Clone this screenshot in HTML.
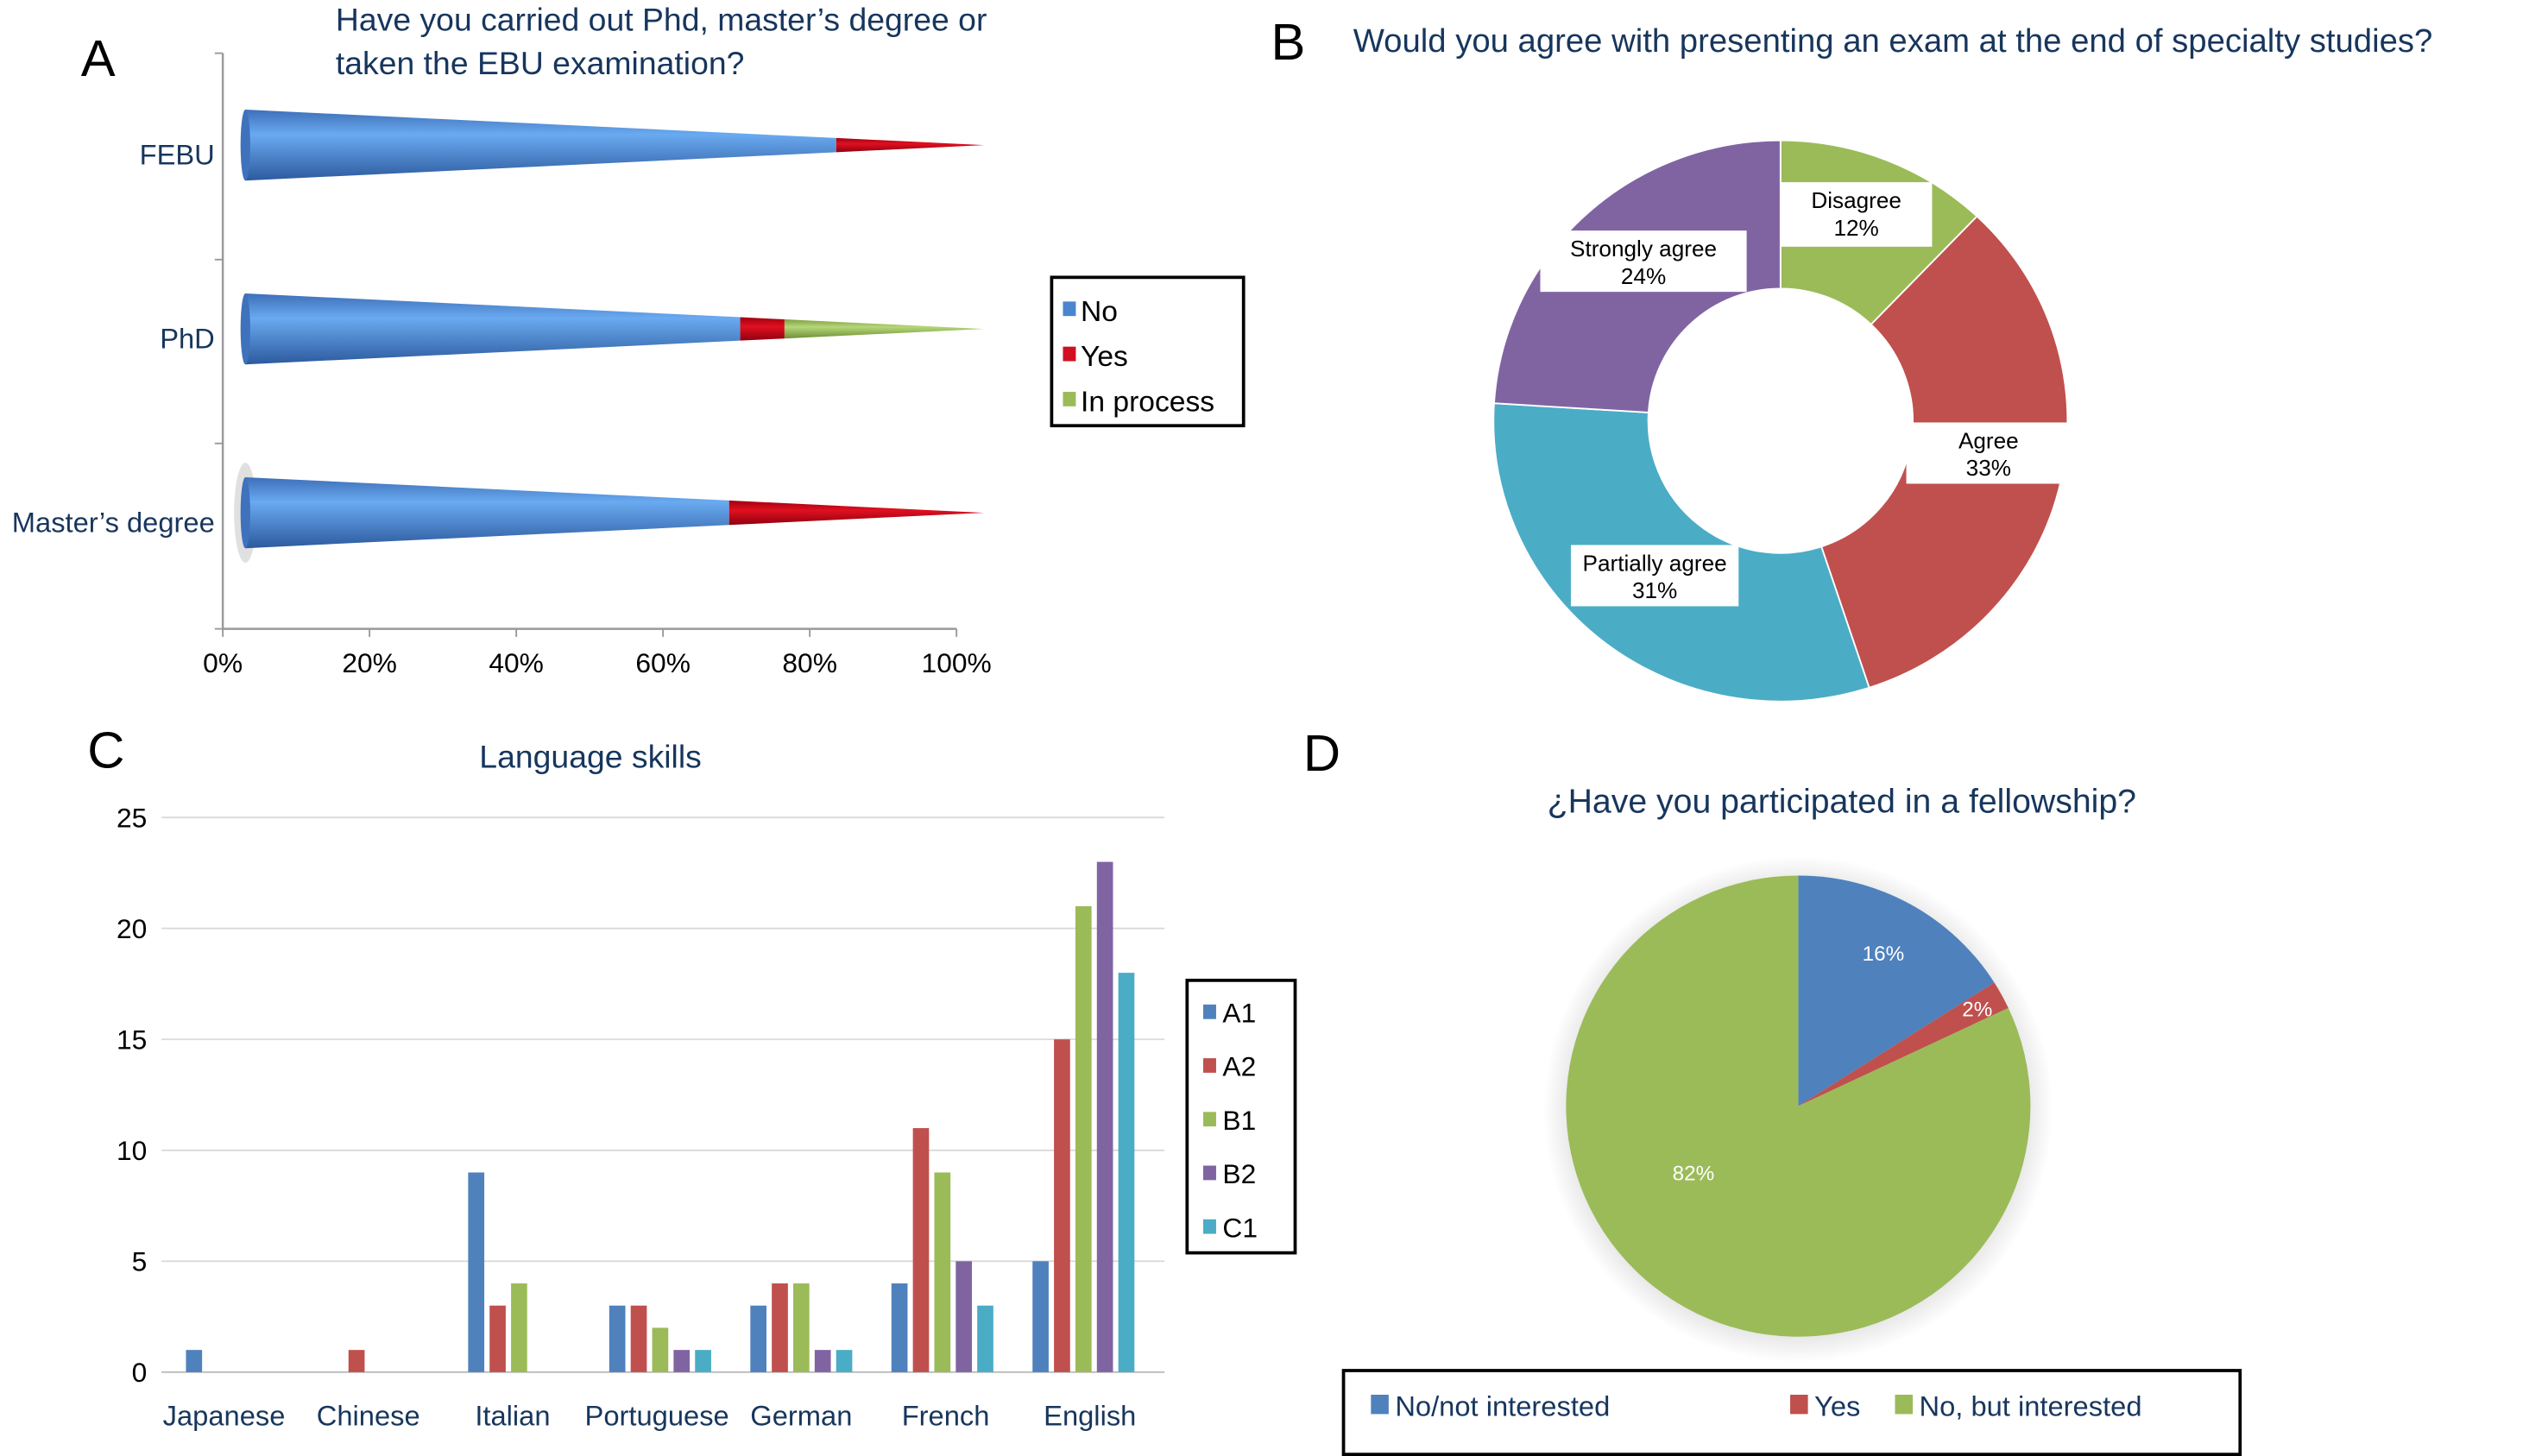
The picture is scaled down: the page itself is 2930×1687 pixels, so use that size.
<!DOCTYPE html>
<html><head><meta charset="utf-8"><style>
html,body{margin:0;padding:0;background:#fff;}
svg{display:block;font-family:"Liberation Sans",Arial,sans-serif;}
</style></head><body>
<svg id="s" width="2930" height="1687" viewBox="0 0 1568 903" xmlns="http://www.w3.org/2000/svg">
<defs>
<linearGradient id="gb" x1="0" y1="0" x2="0" y2="1"><stop offset="0" stop-color="#3d6fb8"/><stop offset="0.35" stop-color="#6aaaf0"/><stop offset="1" stop-color="#2d5a9e"/></linearGradient>
<linearGradient id="gr" x1="0" y1="0" x2="0" y2="1"><stop offset="0" stop-color="#a00010"/><stop offset="0.4" stop-color="#e01020"/><stop offset="1" stop-color="#900010"/></linearGradient>
<linearGradient id="gg" x1="0" y1="0" x2="0" y2="1"><stop offset="0" stop-color="#7fa040"/><stop offset="0.4" stop-color="#b5d67a"/><stop offset="1" stop-color="#6f9035"/></linearGradient>
<radialGradient id="sh"><stop offset="0.9" stop-color="#e8e8e8"/><stop offset="1" stop-color="#fff"/></radialGradient>
</defs>
<g font-size="32" fill="#000">
<text x="50" y="47">A</text>
<text x="788" y="37">B</text>
<text x="54" y="476">C</text>
<text x="808" y="478">D</text>
</g>
<g id="pa"></g>
<g id="pb"></g>
<g id="pc"></g>
<g id="pd"></g>
</svg>
<script>
const NS="http://www.w3.org/2000/svg";
function mk(p,t,a,txt){const e=document.createElementNS(NS,t);for(const k in a)e.setAttribute(k,a[k]);if(txt!==undefined)e.textContent=txt;p.appendChild(e);return e;}
const NAVY="#17365d";

// ---- Panel A data ----
const aCats=["FEBU","PhD","Master’s degree"];
const aNo=[80,67,65.5];
const aYes=[20,6,34.5];
const aInProc=[0,27,0];
const aTicks=["0%","20%","40%","60%","80%","100%"];
(function(){
const g=document.getElementById('pa');
const x0=138,x100=593,coneL=152,coneR=610,hw=22;
const cy=[90,204,318];
const t=mk(g,'text',{x:208,y:19,'font-size':20,fill:NAVY});

mk(t,'tspan',{x:208,y:19},"Have you carried out Phd, master’s degree or");
mk(t,'tspan',{x:208,y:46},"taken the EBU examination?");
const ax=mk(g,'path',{d:`M${x0} 33V390H${x100}`,stroke:'#999',fill:'none','stroke-width':1.3});

[33,161,275,390].forEach(y=>mk(g,'line',{x1:x0-5,x2:x0,y1:y,y2:y,stroke:'#999'}));
aTicks.forEach((l,i)=>{const x=x0+(x100-x0)*i/5;mk(g,'line',{x1:x,x2:x,y1:390,y2:395,stroke:'#999'});
const e=mk(g,'text',{x:x,y:417,'font-size':17,'text-anchor':'middle',fill:'#000'},l);
});
const fills=['url(#gb)','url(#gr)','url(#gg)'];
aCats.forEach((c,i)=>{
const y=cy[i];const vals=[aNo[i],aYes[i],aInProc[i]];
const L=coneR-coneL;const X=v=>coneL+L*v/100;const H=v=>hw*(1-v/100);
if(i===2){mk(g,'ellipse',{cx:coneL,cy:y,rx:7,ry:hw+9,fill:'#ccc',opacity:0.6});}
let acc=0;
vals.forEach((v,k)=>{if(v<=0)return;const a=acc,b=acc+v;acc=b;
const d=`M${X(a)} ${y-H(a)}L${X(b)} ${y-H(b)}L${X(b)} ${y+H(b)}L${X(a)} ${y+H(a)}Z`;
const p=mk(g,'path',{d:d,fill:fills[k]});
});
mk(g,'ellipse',{cx:coneL,cy:y,rx:3,ry:hw,fill:'#3e72bd'});
const e=mk(g,'text',{x:133,y:y+12,'font-size':17.5,'text-anchor':'end',fill:NAVY},c);
});
const lg=mk(g,'g',{});
mk(lg,'rect',{x:652,y:172,width:119,height:92,fill:'#fff',stroke:'#000','stroke-width':2});
[["No","#4a86d0"],["Yes","#d01020"],["In process","#9bbb59"]].forEach((s,i)=>{
mk(lg,'rect',{x:659,y:187+i*28,width:8,height:9,fill:s[1]});
const e=mk(lg,'text',{x:670,y:199+i*28,'font-size':18,fill:'#000'},s[0]);
});
})();

// ---- Panel B data ----
const bLabels=["Disagree","Agree","Partially agree","Strongly agree"];
const bVals=[12,33,31,24];
const bCols=["#9bbb59","#c0504d","#4bacc6","#8064a2"];
(function(){
const g=document.getElementById('pb');
const t=mk(g,'text',{x:839,y:32,'font-size':20.5,fill:NAVY},"Would you agree with presenting an exam at the end of specialty studies?");

const cx=1104,cy=261,R=178,Ry=174,r=82;
const tot=bVals.reduce((a,b)=>a+b,0);let acc=0;
const boxes=[[1104,113,94,40],[1182,262,102,38],[974,338,104,38],[955,143,128,38]];
bVals.forEach((v,i)=>{const a0=acc/tot*2*Math.PI,a1=(acc+v)/tot*2*Math.PI;acc+=v;
const P=(a,rx,ry)=>[cx+rx*Math.sin(a),cy-ry*Math.cos(a)];
const p0=P(a0,R,Ry),p1=P(a1,R,Ry),q1=P(a1,r,r),q0=P(a0,r,r);const lf=(a1-a0)>Math.PI?1:0;
const d=`M${p0}A${R} ${Ry} 0 ${lf} 1 ${p1}L${q1}A${r} ${r} 0 ${lf} 0 ${q0}Z`;
const p=mk(g,'path',{d:d,fill:bCols[i],stroke:'#fff','stroke-width':1});
});
bVals.forEach((v,i)=>{const b=boxes[i];
mk(g,'rect',{x:b[0],y:b[1],width:b[2],height:b[3],fill:'#fff'});
const e=mk(g,'text',{x:b[0]+b[2]/2,y:b[1]+16,'font-size':14,'text-anchor':'middle',fill:'#000'});

mk(e,'tspan',{x:b[0]+b[2]/2,y:b[1]+16},bLabels[i]);mk(e,'tspan',{x:b[0]+b[2]/2,y:b[1]+33},v+"%");});
})();

// ---- Panel C data ----
const cCats=["Japanese","Chinese","Italian","Portuguese","German","French","English"];
const cSeries=["A1","A2","B1","B2","C1"];
const cA1=[1,0,9,3,3,4,5];
const cA2=[0,1,3,3,4,11,15];
const cB1=[0,0,4,2,4,9,21];
const cB2=[0,0,0,1,1,5,23];
const cC1=[0,0,0,1,1,3,18];
const cTicks=[0,5,10,15,20,25];
(function(){
const g=document.getElementById('pc');
const t=mk(g,'text',{x:366,y:476,'font-size':20,'text-anchor':'middle',fill:NAVY},"Language skills");

const y0=851,y25=507,xL=100,xR=722;const Y=v=>y0-(y0-y25)*v/25;
const gL=103,gW=87.5;
cTicks.forEach(v=>{if(v>0)mk(g,'line',{x1:xL,x2:xR,y1:Y(v),y2:Y(v),stroke:'#d9d9d9'});
const e=mk(g,'text',{x:91,y:Y(v)+6,'font-size':17,'text-anchor':'end',fill:'#000'},String(v));
});
mk(g,'line',{x1:xL,x2:xR,y1:y0,y2:y0,stroke:'#bbb'});
const data=[cA1,cA2,cB1,cB2,cC1];const cols=["#4f81bd","#c0504d","#9bbb59","#8064a2","#4bacc6"];
cCats.forEach((c,i)=>{const cxc=gL+gW*(i+0.5);
data.forEach((s,j)=>{const v=s[i];if(v<=0)return;const x=cxc+(j-2)*13.3-5;
const r=mk(g,'rect',{x:x,y:Y(v),width:10,height:y0-Y(v),fill:cols[j]});
});
const e=mk(g,'text',{x:cxc-8+i*2,y:884,'font-size':17.5,'text-anchor':'middle',fill:NAVY},c);
});
const lg=mk(g,'g',{});
mk(lg,'rect',{x:736,y:608,width:67,height:169,fill:'#fff',stroke:'#000','stroke-width':2});
cSeries.forEach((s,i)=>{mk(lg,'rect',{x:746,y:623+i*33.3,width:8,height:9,fill:cols[i]});
const e=mk(lg,'text',{x:758,y:634+i*33.3,'font-size':17,fill:'#000'},s);
});
})();

// ---- Panel D data ----
const dLabels=["No/not interested","Yes","No, but interested"];
const dVals=[16,2,82];
(function(){
const g=document.getElementById('pd');
const t=mk(g,'text',{x:1142,y:504,'font-size':21,'text-anchor':'middle',fill:NAVY},"¿Have you participated in a fellowship?");

const cx=1115,cy=686,R=144,Ry=143;const cols=["#4f81bd","#c0504d","#9bbb59"];
mk(g,'ellipse',{cx:cx,cy:cy+2,rx:R+14,ry:Ry+14,fill:'url(#sh)'});
const tot=dVals.reduce((a,b)=>a+b,0);let acc=0;
dVals.forEach((v,i)=>{const a0=acc/tot*2*Math.PI,a1=(acc+v)/tot*2*Math.PI;acc+=v;
const P=a=>[cx+R*Math.sin(a),cy-Ry*Math.cos(a)];const lf=(a1-a0)>Math.PI?1:0;
const p=mk(g,'path',{d:`M${cx} ${cy}L${P(a0)}A${R} ${Ry} 0 ${lf} 1 ${P(a1)}Z`,fill:cols[i]});

const am=(a0+a1)/2;let lx,ly;
if(i===2){lx=cx-65;ly=cy+46;}else{const k=i===1?0.88:0.76;lx=cx+R*k*Math.sin(am);ly=cy-Ry*k*Math.cos(am)+5;}
const e=mk(g,'text',{x:lx,y:ly,'font-size':13,'text-anchor':'middle',fill:'#fff'},v+"%");
});
const lg=mk(g,'g',{});
mk(lg,'rect',{x:833,y:850,width:556,height:52,fill:'#fff',stroke:'#000','stroke-width':2});
const lx=[850,1110,1175];
dLabels.forEach((s,i)=>{mk(lg,'rect',{x:lx[i],y:865,width:11,height:12,fill:cols[i]});
const e=mk(lg,'text',{x:lx[i]+15,y:878,'font-size':17.5,fill:NAVY},s);
});
})();
</script>
</body></html>
